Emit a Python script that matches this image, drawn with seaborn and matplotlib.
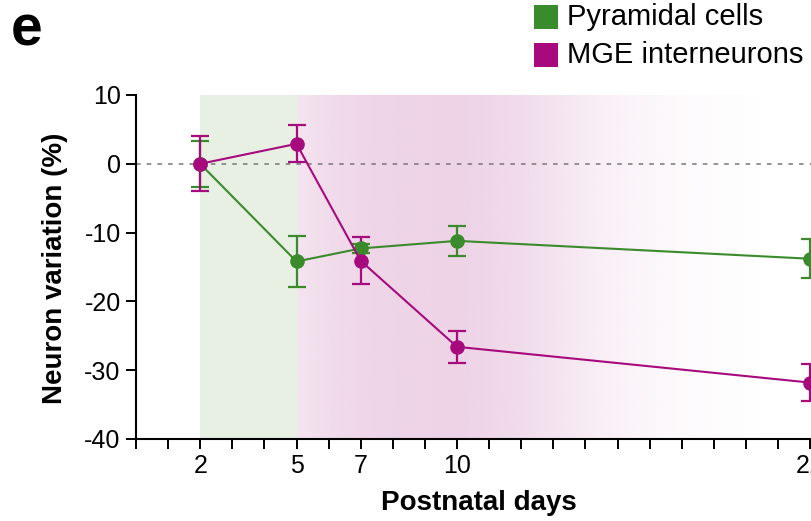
import numpy as np
import pandas as pd
import matplotlib
matplotlib.use("Agg")
import matplotlib.pyplot as plt
from matplotlib.patches import Rectangle
import seaborn as sns

# ---- data ----
days = [2, 5, 7, 10, 21]
pyramidal = [0.0, -14.2, -12.3, -11.2, -13.8]
pyramidal_err = [3.3, 3.7, 0.6, 2.2, 2.8]
mge = [0.0, 2.9, -14.1, -26.6, -31.8]
mge_err = [4.0, 2.7, 3.4, 2.3, 2.7]
xtick_labels = {2: "2", 5: "5", 7: "7", 10: "10", 21: "21"}
yticks = [10, 0, -10, -20, -30, -40]
series_names = ["Pyramidal cells", "MGE interneurons"]

GREEN = "#3a8b2b"
MAGENTA = "#a60a7c"

sns.set_theme(style="ticks")
plt.rcParams["font.family"] = ["Liberation Sans", "DejaVu Sans"]
plt.rcParams["text.color"] = "black"
plt.rcParams["axes.labelcolor"] = "black"
plt.rcParams["xtick.color"] = "black"
plt.rcParams["ytick.color"] = "black"

df = pd.DataFrame({
    "day": days * 2,
    "value": pyramidal + mge,
    "err": pyramidal_err + mge_err,
    "group": [series_names[0]] * len(days) + [series_names[1]] * len(days),
})

fig = plt.figure(figsize=(8.11, 5.21), dpi=100)
W, H = 811, 521
left, right, top, bottom = 136, 136 + 22 * 32.1, 95, 439
ax = fig.add_axes([left / W, (H - bottom) / H, (right - left) / W, (bottom - top) / H])

ax.set_xlim(0, 22)
ax.set_ylim(-40, 10)

# background shading
ax.axvspan(2, 5, color="#e8f0e4", zorder=0, lw=0)
xs = np.linspace(5, 22, 600)
alpha = np.interp(xs, [5, 6, 7.5, 10, 12, 14.5, 17, 19.5, 22],
                  [0.6, 0.8, 0.95, 1.0, 0.8, 0.35, 0.1, 0.0, 0.0])
pink = np.array([0xee, 0xd3, 0xe6]) / 255
img = np.ones((2, len(xs), 4))
img[..., :3] = pink
img[..., 3] = alpha
ax.imshow(img, extent=[5, 22, -40, 10], aspect="auto", zorder=0.5, interpolation="bilinear")

ax.axhline(0, color="#777777", lw=1.1, ls=(0, (3, 4)), zorder=1)

for name, col, z in [(series_names[0], GREEN, 2.0), (series_names[1], MAGENTA, 2.2)]:
    sub = df[df.group == name]
    ax.errorbar(sub.day, sub.value, yerr=sub.err, fmt="none", ecolor=col,
                elinewidth=1.6, capsize=6.5, capthick=1.6, zorder=z)

sns.lineplot(data=df, x="day", y="value", hue="group", palette=[GREEN, MAGENTA],
             marker="o", markersize=10.5, markeredgewidth=0, lw=1.5, ax=ax,
             legend=False, zorder=3, errorbar=None)

ax.set_xticks(range(0, 23))
ax.set_xticklabels([xtick_labels.get(d, "") for d in range(0, 23)])
ax.set_yticks(yticks)
ax.set_yticklabels([str(v) for v in yticks])
ax.tick_params(axis="both", labelsize=18, width=1.4, length=7, color="black", pad=4,
               labelcolor="black")
for s in ["top", "right"]:
    ax.spines[s].set_visible(False)
for s in ["left", "bottom"]:
    ax.spines[s].set_linewidth(1.5)
    ax.spines[s].set_color("black")

ax.set_ylabel("")
ax.set_xlabel("")
fig.text(479 / W, 1 - 503 / H, "Postnatal days", fontsize=20, fontweight="bold",
         ha="center", va="center")
fig.text(55 / W, 1 - 268 / H, "Neuron variation (%)", rotation=90, fontsize=20,
         fontweight="bold", ha="center", va="center")

fig.text(11 / W, 1 - 31 / H, "e", fontsize=41, fontweight="bold", ha="left", va="center")

# legend
for i, (name, col) in enumerate(zip(series_names, [GREEN, MAGENTA])):
    y = 17 + i * 38
    fig.add_artist(Rectangle((534 / W, 1 - (y + 12) / H), 24 / W, 24 / H,
                             transform=fig.transFigure, color=col, lw=0))
    fig.text(567 / W, 1 - y / H, name, fontsize=21, ha="left", va="center")

fig.savefig("out.png", dpi=100)
